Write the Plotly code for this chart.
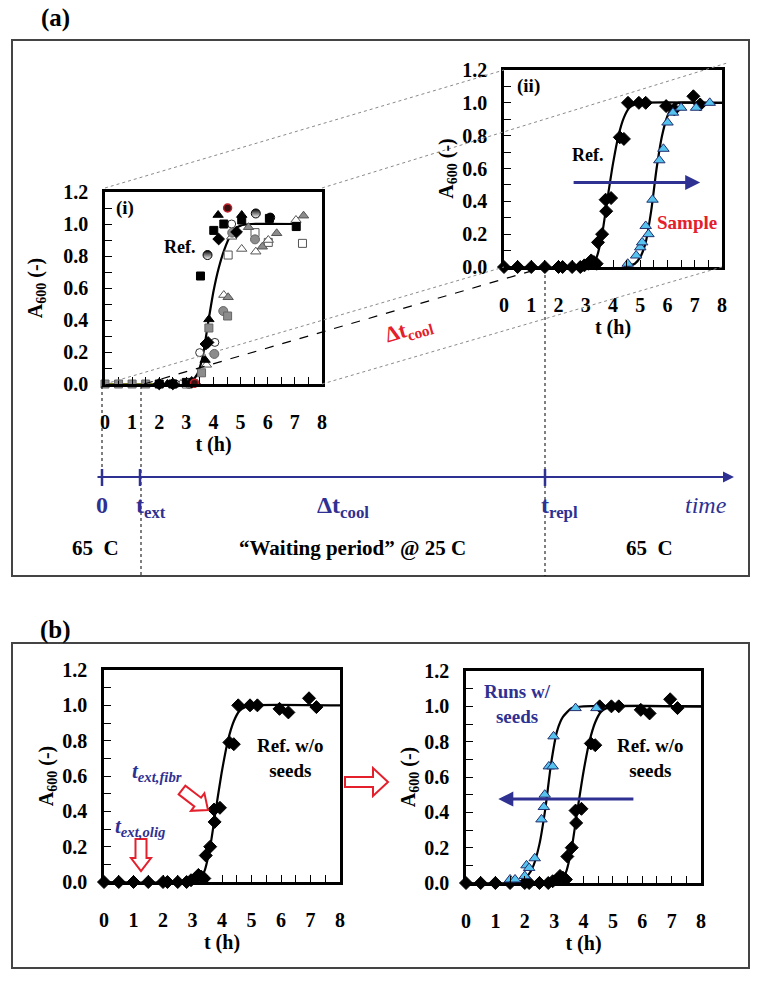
import math
import plotly.graph_objects as go

W, H = 762, 986
FONT = "Liberation Serif, Times New Roman, Times, serif"
BLUE = "#2E3192"
RED = "#E3202C"
CYAN = "#56C3EE"

# ---------------- data ----------------
# inset (i): several runs (overlaid reference experiments)
i_black_sq_t = [2.0, 2.5, 3.0, 3.52, 4.01, 4.38, 5.04, 6.06, 7.05]
i_black_sq_A = [0.0, 0.0, 0.01, 0.675, 0.96, 1.0, 1.025, 1.035, 0.984]
i_gray_sq_t = [0.0, 0.5, 1.0, 1.5, 3.2, 3.56, 3.83, 4.52]
i_gray_sq_A = [0.0, 0.0, 0.0, 0.0, 0.005, 0.07, 0.35, 0.425]
i_open_sq_t = [3.0, 4.54, 5.53, 6.02, 7.28]
i_open_sq_A = [0.0, 0.806, 0.946, 0.885, 0.879]
i_black_tri_t = [2.3, 3.69, 3.83, 4.17, 5.04]
i_black_tri_A = [0.0, 0.15, 0.404, 1.056, 1.056]
i_gray_tri_t = [3.4, 4.54, 5.29, 5.8, 6.33, 7.32]
i_gray_tri_A = [0.0, 0.542, 0.98, 0.858, 0.942, 1.052]
i_open_tri_t = [2.8, 3.74, 4.38, 4.67, 5.04, 5.56, 6.02, 7.04]
i_open_tri_A = [0.0, 0.12, 0.556, 0.92, 0.844, 0.827, 0.9, 1.025]
i_open_circ_t = [2.6, 3.49, 4.05, 4.67]
i_open_circ_A = [0.0, 0.196, 0.26, 1.0]
i_gray_circ_t = [3.1, 4.03, 4.36, 4.69, 5.53]
i_gray_circ_A = [0.0, 0.188, 0.456, 0.946, 0.904]
i_half_circ_t = [3.78, 5.56, 6.09]
i_half_circ_A = [0.806, 1.066, 1.04]
i_red_circ_t = [3.3, 4.52]
i_red_circ_A = [0.005, 1.10]
i_diamond_t = [2.0, 2.5, 3.2, 3.72, 3.8, 4.19, 4.85]
i_diamond_A = [0.0, 0.0, 0.01, 0.25, 0.26, 0.906, 0.95]
i_base_t = [0.0, 2.5]
i_base_A = [0.0, 0.0]
i_curve_t = [2.5, 3.0, 3.2, 3.4, 3.6, 3.8, 4.0, 4.2, 4.4, 4.6, 4.8, 5.0, 5.4, 7.05]
i_curve_A = [0.0, 0.005, 0.02, 0.06, 0.17, 0.38, 0.58, 0.73, 0.84, 0.92, 0.97, 0.99, 1.0, 1.0]

# reference run (no seeds)
ref_t = [0, 0.5, 1.0, 1.5, 2.0, 2.15, 2.5, 2.8, 2.95, 3.1, 3.2, 3.3, 3.4, 3.45, 3.6, 3.75, 3.73, 3.93,
         4.25, 4.4, 4.55, 4.95, 5.2, 5.95, 6.25, 6.95, 7.2]
ref_A = [0, 0, 0, 0, 0, 0, 0, 0, 0.01, 0.02, 0.04, 0.03, 0.02, 0.15, 0.2, 0.34, 0.41, 0.42,
         0.79, 0.78, 1.0, 1.0, 1.0, 0.98, 0.96, 1.04, 0.99]
ref_curve_t = [0, 3.0, 3.2, 3.4, 3.6, 3.8, 4.0, 4.2, 4.4, 4.6, 4.8, 5.0, 8.0]
ref_curve_A = [0, 0.0, 0.01, 0.06, 0.2, 0.42, 0.63, 0.8, 0.91, 0.97, 0.99, 1.0, 1.0]

# sample after waiting period (inset ii)
smp_t = [4.54, 4.85, 5.0, 5.07, 5.2, 5.3, 5.45, 5.7, 5.85, 6.0, 6.2, 6.5, 7.05, 7.55]
smp_A = [0.02, 0.07, 0.12, 0.15, 0.25, 0.2, 0.41, 0.65, 0.72, 0.88, 0.94, 0.97, 0.97, 1.0]
smp_curve_t = [4.4, 4.8, 5.0, 5.2, 5.4, 5.6, 5.8, 6.0, 6.2, 6.4, 7.0, 8.0]
smp_curve_A = [0.0, 0.02, 0.06, 0.15, 0.34, 0.6, 0.8, 0.92, 0.98, 1.0, 1.0, 1.0]

# runs with seeds (panel b, right)
seed_t = [1.5, 1.67, 2.0, 2.06, 2.15, 2.34, 2.57, 2.65, 2.68, 2.82, 2.95, 2.98, 3.73, 4.44]
seed_A = [0.02, 0.02, 0.04, 0.10, 0.085, 0.14, 0.36, 0.43, 0.50, 0.66, 0.66, 0.83, 0.99, 0.99]
seed_curve_t = [1.5, 1.6, 1.9, 2.1, 2.3, 2.5, 2.7, 2.9, 3.1, 3.3, 3.6, 4.0, 8.0]
seed_curve_A = [0.0, 0.0, 0.01, 0.04, 0.1, 0.22, 0.42, 0.68, 0.86, 0.94, 0.99, 1.0, 1.0]


def PX(x):
    return x / W


def PY(y):
    return 1 - y / H


fig = go.Figure()


def sc(xa, ya, t, A, symbol, fill, line="black", size=9, lw=1, **kw):
    fig.add_trace(go.Scatter(x=t, y=A, mode="markers", xaxis=xa, yaxis=ya, cliponaxis=False,
                             marker=dict(symbol=symbol, color=fill, size=size,
                                         line=dict(color=line, width=lw), **kw),
                             showlegend=False, hoverinfo="skip"))


def ln(xa, ya, t, A, color="black", width=2.2):
    fig.add_trace(go.Scatter(x=t, y=A, mode="lines", xaxis=xa, yaxis=ya, cliponaxis=False,
                             line=dict(color=color, width=width, shape="spline", smoothing=0.6),
                             showlegend=False, hoverinfo="skip"))


# inset (i)
ln("x", "y", i_base_t, i_base_A, color="#7A7A2A", width=2)
ln("x", "y", i_curve_t, i_curve_A)
sc("x", "y", i_open_sq_t, i_open_sq_A, "square", "white", "#555", 8)
sc("x", "y", i_open_tri_t, i_open_tri_A, "triangle-up", "white", "#555", 9)
sc("x", "y", i_gray_tri_t, i_gray_tri_A, "triangle-up", "#8C8C8C", "#555", 9)
sc("x", "y", i_open_circ_t, i_open_circ_A, "circle", "white", "#333", 8)
sc("x", "y", i_gray_circ_t, i_gray_circ_A, "circle", "#8C8C8C", "#666", 9)
sc("x", "y", i_half_circ_t, i_half_circ_A, "circle", "black", "black", 9,
   gradient=dict(type="vertical", color="white"))
sc("x", "y", i_black_tri_t, i_black_tri_A, "triangle-up", "black", "black", 9)
sc("x", "y", i_black_sq_t, i_black_sq_A, "square", "black", "black", 8)
sc("x", "y", i_gray_sq_t, i_gray_sq_A, "square", "#8C8C8C", "#666", 8)
sc("x", "y", i_diamond_t, i_diamond_A, "diamond", "black", "black", 9)
sc("x", "y", i_red_circ_t, i_red_circ_A, "circle", "#3A1010", "#C0202A", 8, 1.5)

# inset (ii)
ln("x2", "y2", ref_curve_t, ref_curve_A)
ln("x2", "y2", smp_curve_t, smp_curve_A)
sc("x2", "y2", ref_t, ref_A, "diamond", "black", "black", 10)
sc("x2", "y2", smp_t, smp_A, "triangle-up", CYAN, "#23306E", 10)

# panel (b) left
ln("x3", "y3", ref_curve_t, ref_curve_A)
sc("x3", "y3", ref_t, ref_A, "diamond", "black", "black", 10)

# panel (b) right
ln("x4", "y4", ref_curve_t, ref_curve_A)
ln("x4", "y4", seed_curve_t, seed_curve_A)
sc("x4", "y4", ref_t, ref_A, "diamond", "black", "black", 10)
sc("x4", "y4", seed_t, seed_A, "triangle-up", CYAN, "#23306E", 10)

TFS = 20


def xaxis(x0, x1, anchor, fs=TFS):
    return dict(domain=[PX(x0), PX(x1)], range=[0, 8], anchor=anchor, automargin=False,
                tickmode="linear", tick0=0, dtick=1, ticks="inside", ticklen=7, tickwidth=1.2,
                tickcolor="black",
                minor=dict(ticks="inside", tick0=0, dtick=0.5, ticklen=7, tickwidth=1.2, tickcolor="black"),
                showline=True, linewidth=2.5, linecolor="black", mirror=True,
                showgrid=False, zeroline=False, ticklabelstandoff=18,
                tickfont=dict(family=FONT, size=fs, color="black", weight="bold"),
                title=dict(text="t (h)", standoff=0,
                           font=dict(family=FONT, size=fs, color="black", weight="bold")))


def yaxis(y0, y1, anchor, standoff=6, fs=TFS):
    return dict(domain=[PY(y1), PY(y0)], range=[0, 1.2], anchor=anchor, automargin=False,
                tickmode="linear", tick0=0, dtick=0.2, tickformat=".1f",
                ticks="inside", ticklen=7, tickwidth=1.2, tickcolor="black",
                minor=dict(ticks="inside", tick0=0, dtick=0.1, ticklen=7, tickwidth=1.2, tickcolor="black"),
                showline=True, linewidth=2.5, linecolor="black", mirror=True,
                showgrid=False, zeroline=False, ticklabelstandoff=10,
                tickfont=dict(family=FONT, size=fs, color="black", weight="bold"),
                title=dict(text="A<sub>600</sub> (-)", standoff=standoff,
                           font=dict(family=FONT, size=fs, color="black", weight="bold")))


fig.update_layout(
    template="none",
    font=dict(family=FONT),
    width=W, height=H, margin=dict(l=0, r=0, t=0, b=0, pad=0, autoexpand=False),
    paper_bgcolor="white", plot_bgcolor="rgba(0,0,0,0)",
    xaxis=xaxis(105, 322, "y"), yaxis=yaxis(192, 384, "x", standoff=16),
    xaxis2=xaxis(504, 722, "y2"), yaxis2=yaxis(70, 267, "x2", standoff=4),
    xaxis3=xaxis(104, 340, "y3"), yaxis3=yaxis(670, 882, "x3", standoff=4),
    xaxis4=xaxis(466, 701, "y4"), yaxis4=yaxis(671, 883, "x4", standoff=4),
)

shapes = []
annos = []


def pline(x0, y0, x1, y1, color="black", width=1, dash="solid"):
    shapes.append(dict(type="line", xref="paper", yref="paper", x0=PX(x0), y0=PY(y0), x1=PX(x1), y1=PY(y1),
                       line=dict(color=color, width=width, dash=dash)))


def prect(x0, y0, x1, y1):
    shapes.append(dict(type="rect", xref="paper", yref="paper", x0=PX(x0), y0=PY(y0), x1=PX(x1), y1=PY(y1),
                       line=dict(color="#444", width=2), layer="below"))


def block_arrow(x0, y0, x1, y1, sw, hw, hl):
    L = math.hypot(x1 - x0, y1 - y0)
    dx, dy = (x1 - x0) / L, (y1 - y0) / L
    nx, ny = -dy, dx
    bx, by = x1 - dx * hl, y1 - dy * hl
    pts = [(x0 + nx * sw / 2, y0 + ny * sw / 2), (bx + nx * sw / 2, by + ny * sw / 2),
           (bx + nx * hw / 2, by + ny * hw / 2), (x1, y1),
           (bx - nx * hw / 2, by - ny * hw / 2), (bx - nx * sw / 2, by - ny * sw / 2),
           (x0 - nx * sw / 2, y0 - ny * sw / 2)]
    path = "M " + " L ".join(f"{PX(a):.5f},{PY(b):.5f}" for a, b in pts) + " Z"
    shapes.append(dict(type="path", xref="paper", yref="paper", path=path,
                       line=dict(color=RED, width=2), fillcolor="white"))


def ptext(x, y, text, size=18, color="black", xanchor="center", angle=0):
    annos.append(dict(x=PX(x), y=PY(y), xref="paper", yref="paper", text=text, showarrow=False,
                      xanchor=xanchor, yanchor="middle", textangle=angle,
                      font=dict(family=FONT, size=size, color=color)))


def dtext(xa, ya, x, y, text, size=17, color="black"):
    annos.append(dict(x=x, y=y, xref=xa, yref=ya, text=text, showarrow=False,
                      font=dict(family=FONT, size=size, color=color)))


# frames
prect(12, 40, 749, 576)
prect(12, 643, 749, 968)

# perspective lines
GR = "#8A8A8A"
pline(105, 188, 504, 70, GR, 1, "dot")
pline(322, 188, 727, 63, GR, 1, "dot")
pline(105, 384, 504, 267, GR, 1, "dot")
pline(322, 384, 722, 267, GR, 1, "dot")
pline(144, 384, 545, 267, "black", 1.2, "dash")

# vertical dotted guides
pline(102, 386, 102, 477, "black", 1, "dot")
pline(141, 386, 141, 576, "black", 1, "dot")
pline(545, 269, 545, 576, "black", 1, "dot")

# timeline
for tx in (102, 140, 545):
    pline(tx, 469, tx, 486, BLUE, 2.5)
annos.append(dict(x=PX(734), y=PY(477), xref="paper", yref="paper", ax=-(734 - 96), ay=0,
                  text="", showarrow=True, arrowhead=2, arrowsize=1, arrowwidth=2.2, arrowcolor=BLUE))

ptext(102, 505, "<b>0</b>", 24, BLUE)
ptext(134, 507, "<b>t<sub>ext</sub></b>", 24, BLUE, "left")
ptext(343, 507, "<b>Δt<sub>cool</sub></b>", 24, BLUE)
ptext(539, 507, "<b>t<sub>repl</sub></b>", 24, BLUE, "left")
ptext(706, 505, "<i>time</i>", 24, BLUE)
ptext(95, 548, "<b>65  C</b>", 21)
ptext(352, 548, "<b>“Waiting period” @ 25 C</b>", 21)
ptext(649, 548, "<b>65  C</b>", 21)

ptext(409, 330, "<b>Δt<sub>cool</sub></b>", 22, RED, angle=-16)

ptext(55, 18, "<b>(a)</b>", 25)
ptext(55, 630, "<b>(b)</b>", 25)

# inset labels
dtext("x", "y", 0.75, 1.1, "<b>(i)</b>", 19)
dtext("x", "y", 2.74, 0.856, "<b>Ref.</b>", 18)
dtext("x2", "y2", 0.9, 1.1, "<b>(ii)</b>", 19)
dtext("x2", "y2", 3.07, 0.68, "<b>Ref.</b>", 18)
dtext("x2", "y2", 6.7, 0.27, "<b>Sample</b>", 19, RED)
annos.append(dict(x=7.2, y=0.515, xref="x2", yref="y2", ax=2.5, ay=0.515, axref="x2", ayref="y2",
                  text="", showarrow=True, arrowhead=2, arrowsize=1, arrowwidth=3, arrowcolor=BLUE))

# panel b labels
dtext("x3", "y3", 6.3, 0.7, "<b>Ref. w/o<br>seeds</b>", 19)
dtext("x3", "y3", 1.8, 0.62, "<b><i>t<sub>ext,fibr</sub></i></b>", 21, BLUE)
dtext("x3", "y3", 1.22, 0.31, "<b><i>t<sub>ext,olig</sub></i></b>", 21, BLUE)
dtext("x4", "y4", 1.77, 1.015, "<b>Runs w/<br>seeds</b>", 19, BLUE)
dtext("x4", "y4", 6.26, 0.71, "<b>Ref. w/o<br>seeds</b>", 19)
annos.append(dict(x=1.1, y=0.475, xref="x4", yref="y4", ax=5.75, ay=0.475, axref="x4", ayref="y4",
                  text="", showarrow=True, arrowhead=2, arrowsize=1, arrowwidth=3, arrowcolor=BLUE))

# red hollow arrows
block_arrow(141, 839, 141, 871, 11, 20, 13)
block_arrow(182, 790, 208, 810, 11, 22, 13)
block_arrow(345, 782, 388, 782, 10, 28, 15)

fig.update_layout(shapes=shapes, annotations=annos)
fig.write_html("out.html", config={"displayModeBar": False},
               post_script="document.body.style.margin='0px';")
